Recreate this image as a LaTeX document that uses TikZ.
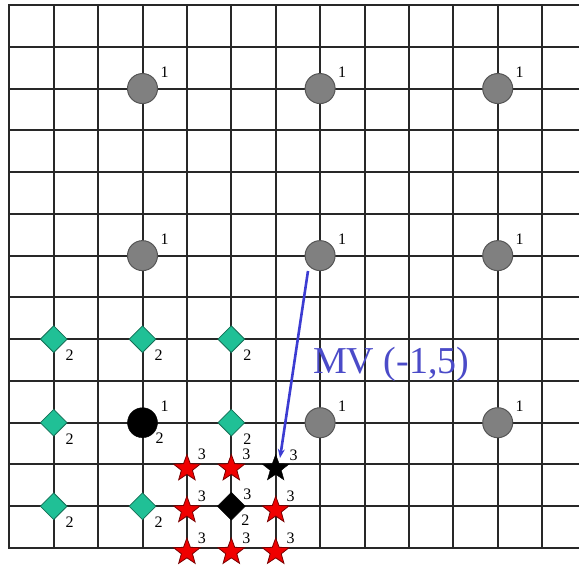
\documentclass[tikz,border=0pt]{standalone}
\usepackage{fontspec}
\setmainfont{Liberation Serif}
\usetikzlibrary{shapes.geometric,arrows.meta}
\definecolor{gridc}{RGB}{40,40,40}
\definecolor{grayc}{RGB}{128,128,128}
\definecolor{grayb}{RGB}{85,85,85}
\definecolor{tealc}{RGB}{32,192,150}
\definecolor{tealb}{RGB}{20,110,85}
\definecolor{redc}{RGB}{240,0,0}
\definecolor{redb}{RGB}{120,0,0}
\definecolor{mvblue}{RGB}{60,60,210}
\definecolor{mvtext}{RGB}{75,75,200}
\tikzset{
  gridline/.style={line width=2pt, draw=gridc, line cap=rect},
  numlab/.style={font=\fontsize{16}{16}\selectfont, inner sep=0pt, text=black},
  graycirc/.style={circle, fill=grayc, draw=grayb, line width=1pt, minimum size=30pt, inner sep=0pt},
  blackcirc/.style={circle, fill=black, draw=black, minimum size=30pt, inner sep=0pt},
  tealdia/.style={diamond, fill=tealc, draw=tealb, line width=0.8pt, minimum width=27pt, minimum height=27pt, inner sep=0pt},
  blackdia/.style={diamond, fill=black, draw=black, minimum width=28pt, minimum height=28pt, inner sep=0pt},
  redstar/.style={star, star points=5, star point ratio=2.4, fill=redc, draw=redb, line width=0.8pt, minimum size=28pt, inner sep=0pt, yshift=-4pt},
  blackstar/.style={star, star points=5, star point ratio=2.4, fill=black, draw=black, minimum size=28pt, inner sep=0pt, yshift=-4pt},
  lone/.style={label={[numlab, xshift=22pt, yshift=16pt]center:1}},
  ltwo/.style={label={[numlab, xshift=16pt, yshift=-16pt]center:2}},
  lthree/.style={label={[numlab, xshift=15pt, yshift=14pt]center:3}},
  mvarrow/.style={draw=mvblue, line width=2.6pt, -{Stealth[length=9pt,width=7pt]}},
  mvlabel/.style={font=\fontsize{38}{38}\selectfont, text=mvtext, inner sep=0pt}
}
\begin{document}
\begin{tikzpicture}[x=44.4pt,y=-41.77pt]
\useasboundingbox (-0.2095,-0.1197) rectangle (12.831,13.407);
\foreach \i in {0,...,12} \draw[gridline] (\i,0) -- (\i,13);
\foreach \j in {0,...,13} \draw[gridline] (0,\j) -- (12.831,\j);
% gray circles
\node[graycirc, lone] (c1) at (3,2) {};
\node[graycirc, lone] (c2) at (7,2) {};
\node[graycirc, lone] (c3) at (11,2) {};
\node[graycirc, lone] (c4) at (3,6) {};
\node[graycirc, lone] (c5) at (7,6) {};
\node[graycirc, lone] (c6) at (11,6) {};
\node[graycirc, lone] (c7) at (7,10) {};
\node[graycirc, lone] (c8) at (11,10) {};
\node[blackcirc, lone, label={[numlab, xshift=17pt, yshift=-15pt]center:2}] (bc) at (3,10) {};
% teal diamonds
\node[tealdia, ltwo] (d1) at (1,8) {};
\node[tealdia, ltwo] (d2) at (3,8) {};
\node[tealdia, ltwo] (d3) at (5,8) {};
\node[tealdia, ltwo] (d4) at (1,10) {};
\node[tealdia, ltwo] (d5) at (5,10) {};
\node[tealdia, ltwo] (d6) at (1,12) {};
\node[tealdia, ltwo] (d7) at (3,12) {};
\node[blackdia, label={[numlab, xshift=16pt, yshift=12pt]center:3}, label={[numlab, xshift=14pt, yshift=-14pt]center:2}] (bd) at (5,12) {};
% stars
\node[redstar, lthree] (s1) at (4,11) {};
\node[redstar, lthree] (s2) at (5,11) {};
\node[blackstar, label={[numlab, xshift=18pt, yshift=13pt]center:3}] (bs) at (6,11) {};
\node[redstar, lthree] (s3) at (4,12) {};
\node[redstar, lthree] (s4) at (6,12) {};
\node[redstar, lthree] (s5) at (4,13) {};
\node[redstar, lthree] (s6) at (5,13) {};
\node[redstar, lthree] (s7) at (6,13) {};
% motion vector
\coordinate (mvs) at (6.727,6.368);
\coordinate (mve) at (6.097,10.845);
\draw[mvarrow] (mvs) -- (mve);
\node[mvlabel, anchor=base west] (mv) at (6.840,8.810) {MV (-1,5)};
\end{tikzpicture}
\end{document}
